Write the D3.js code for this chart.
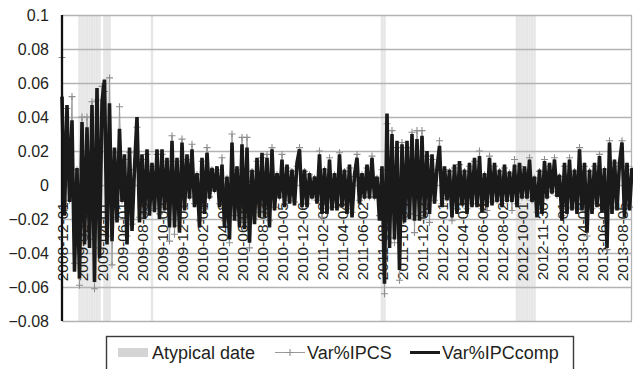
<!DOCTYPE html>
<html>
<head>
<meta charset="utf-8">
<script src="https://cdn.jsdelivr.net/npm/d3@7"></script>
<style>
  body { margin: 0; background: #fff; }
  text { font-family: "Liberation Sans", Arial, Helvetica, sans-serif; fill: #231f20; }
</style>
</head>
<body>
<div id="chart"></div>
<script>
// category axis labels, one every 8 points
const dateLabels = ["2008-12-01","2009-02-02","2009-04-01","2009-06-01","2009-08-03","2009-10-02",
  "2009-12-01","2010-02-01","2010-04-08","2010-06-04","2010-08-03","2010-10-05","2010-12-06",
  "2011-02-03","2011-04-04","2011-06-02","2011-08-03","2011-10-04","2011-12-02","2012-02-01",
  "2012-04-03","2012-06-04","2012-08-02","2012-10-01","2012-11-30","2013-02-01","2013-04-03",
  "2013-06-04","2013-08-05"];
const labelEvery = 8;

const yTicks = [-0.08, -0.06, -0.04, -0.02, 0, 0.02, 0.04, 0.06, 0.08, 0.1];

// Var%IPCcomp (black line)
const varIPCcomp = [
  0.052,-0.018,0.047,-0.010,0.038,-0.051,0.010,-0.055,0.037,-0.035,
  0.034,-0.037,0.047,-0.057,0.057,-0.043,0.049,0.062,-0.035,0.048,
  -0.033,0.022,-0.022,0.033,-0.010,0.018,-0.035,0.022,-0.027,0.010,
  0.040,-0.022,0.018,-0.020,0.021,-0.018,0.013,-0.016,0.021,-0.020,
  0.021,-0.015,0.016,-0.025,0.026,-0.025,0.016,-0.028,0.025,-0.015,
  0.018,-0.008,0.021,-0.013,0.007,-0.025,0.016,-0.017,0.019,-0.008,
  0.010,-0.004,0.011,-0.013,0.012,-0.025,0.005,-0.032,0.025,-0.021,
  0.011,-0.025,0.024,-0.026,0.022,-0.034,0.009,-0.023,0.016,-0.019,
  0.019,-0.019,0.016,-0.025,0.021,-0.015,0.007,-0.008,0.015,-0.013,
  0.012,-0.011,0.009,-0.012,0.013,0.021,-0.013,0.009,-0.013,0.007,
  -0.008,0.005,-0.011,0.018,-0.017,0.010,-0.017,0.015,-0.015,0.007,
  -0.015,0.018,-0.013,0.009,-0.017,0.012,-0.019,0.006,0.016,-0.011,
  0.007,-0.008,0.012,-0.008,0.016,-0.008,0.005,-0.021,0.011,-0.058,
  0.042,-0.037,0.030,-0.032,0.026,-0.050,0.024,-0.022,0.026,-0.020,
  0.030,-0.021,0.027,-0.021,0.029,-0.019,0.020,-0.017,0.018,-0.011,
  0.010,0.023,-0.013,0.011,-0.009,0.009,-0.019,0.012,-0.017,0.014,
  -0.012,0.009,-0.017,0.013,-0.013,0.016,-0.013,0.017,-0.016,0.007,
  -0.013,0.016,-0.012,0.013,-0.010,0.009,-0.013,0.012,-0.010,0.008,
  -0.010,0.012,-0.013,0.013,-0.008,0.011,-0.008,0.015,-0.010,0.005,
  -0.019,0.009,-0.017,0.014,-0.008,0.013,-0.005,0.015,-0.007,0.006,
  -0.021,0.013,-0.017,0.015,-0.015,0.009,-0.017,0.021,-0.015,0.013,
  -0.028,0.009,-0.017,0.013,-0.013,0.017,-0.016,0.010,-0.037,0.025,
  -0.017,0.015,-0.015,0.013,0.025,-0.019,0.013,-0.015,0.010];

// Var%IPCS (grey line with + markers)
const varIPCS = [
  0.075,-0.015,0.045,-0.009,0.052,-0.046,0.009,-0.059,0.040,-0.030,
  0.040,-0.032,0.049,-0.061,0.050,-0.037,0.058,0.055,-0.030,0.063,
  -0.047,0.019,-0.019,0.046,-0.009,0.015,-0.030,0.019,-0.023,0.009,
  0.034,-0.019,0.015,-0.017,0.018,-0.015,0.011,-0.014,0.018,-0.017,
  0.018,-0.013,0.014,-0.033,0.029,-0.029,0.014,-0.024,0.027,-0.013,
  0.015,-0.007,0.024,-0.011,0.006,-0.021,0.014,-0.014,0.022,-0.007,
  0.009,-0.003,0.009,-0.011,0.016,-0.021,0.004,-0.034,0.030,-0.018,
  0.009,-0.021,0.028,-0.022,0.028,-0.037,0.008,-0.020,0.014,-0.016,
  0.016,-0.016,0.018,-0.021,0.022,-0.013,0.006,-0.007,0.018,-0.011,
  0.010,-0.009,0.008,-0.010,0.011,0.022,-0.011,0.008,-0.011,0.006,
  -0.007,0.004,-0.009,0.020,-0.019,0.009,-0.014,0.016,-0.013,0.006,
  -0.013,0.019,-0.011,0.008,-0.014,0.010,-0.016,0.005,0.018,-0.009,
  0.006,-0.007,0.010,-0.007,0.017,-0.007,0.004,-0.018,0.009,-0.064,
  0.036,-0.031,0.032,-0.034,0.022,-0.056,0.025,-0.019,0.022,-0.017,
  0.031,-0.028,0.032,-0.018,0.032,-0.016,0.017,-0.022,0.015,-0.009,
  0.009,0.026,-0.011,0.009,-0.008,0.008,-0.021,0.010,-0.014,0.012,
  -0.010,0.008,-0.014,0.011,-0.011,0.014,-0.011,0.020,-0.014,0.006,
  -0.015,0.017,-0.010,0.011,-0.009,0.008,-0.011,0.010,-0.009,0.007,
  -0.015,0.015,-0.011,0.011,-0.007,0.009,-0.007,0.016,-0.009,0.004,
  -0.016,0.008,-0.014,0.015,-0.007,0.011,-0.004,0.016,-0.006,0.005,
  -0.018,0.011,-0.014,0.016,-0.013,0.008,-0.014,0.022,-0.013,0.011,
  -0.030,0.008,-0.014,0.011,-0.011,0.018,-0.014,0.009,-0.038,0.026,
  -0.014,0.013,-0.013,0.011,0.026,-0.016,0.011,-0.013,0.009];

// indexes of the atypical dates (grey bands)
const atypical = [7,8,9,10,11,12,13,14,15,17,18,19,36,128,129,182,183,184,185,186,187,188,189];

const outerWidth = 633, outerHeight = 369;
const plotLeft = 62, plotRight = 632, plotTop = 15, plotBottom = 321;

const svg = d3.select("#chart").append("svg")
  .attr("width", outerWidth)
  .attr("height", outerHeight);

const x = d3.scaleLinear()
  .domain([0, varIPCcomp.length - 1])
  .range([plotLeft, plotRight]);
const y = d3.scaleLinear()
  .domain([-0.08, 0.1])
  .range([plotBottom, plotTop]);
const step = x(1) - x(0);

// atypical date bands
svg.append("g").selectAll("rect")
  .data(atypical).enter().append("rect")
  .attr("x", d => x(d) - step / 2)
  .attr("y", plotTop)
  .attr("width", step)
  .attr("height", plotBottom - plotTop)
  .attr("fill", "#e6e6e6");

// y axis with grid
const yAxis = d3.axisLeft(y)
  .tickValues(yTicks)
  .tickSize(-(plotRight - plotLeft))
  .tickPadding(13)
  .tickFormat(d3.format("~g"));
const yAxisGroup = svg.append("g")
  .attr("transform", "translate(" + plotLeft + ",0)")
  .call(yAxis);
yAxisGroup.select(".domain").remove();
yAxisGroup.selectAll("line").attr("stroke", "#b3b3b3").attr("stroke-width", 1.3);
yAxisGroup.selectAll("text").style("font-size", "16px").attr("fill", "#231f20");

// right border
svg.append("line")
  .attr("x1", plotRight - 0.5).attr("x2", plotRight - 0.5)
  .attr("y1", plotTop).attr("y2", plotBottom)
  .attr("stroke", "#b3b3b3").attr("stroke-width", 1.3);

// category labels (rotated, sitting under the zero line)
const xAxis = d3.axisBottom(x)
  .tickValues(dateLabels.map((d, i) => i * labelEvery))
  .tickSize(0)
  .tickFormat((d, i) => dateLabels[i]);
const xAxisGroup = svg.append("g")
  .attr("transform", "translate(0," + y(0) + ")")
  .call(xAxis);
xAxisGroup.select(".domain").remove();
xAxisGroup.selectAll("text")
  .style("font-size", "15.5px")
  .attr("fill", "#231f20")
  .attr("text-anchor", "end")
  .attr("y", 0).attr("x", 0)
  .attr("dy", "0.35em")
  .attr("transform", "translate(0,17) rotate(-90)");

// Var%IPCS
const line = d3.line().x((d, i) => x(i)).y(d => y(d));
svg.append("path")
  .datum(varIPCS)
  .attr("fill", "none")
  .attr("stroke", "#9a9a9a")
  .attr("stroke-width", 1)
  .attr("d", line);
svg.append("g").selectAll("path")
  .data(varIPCS).enter().append("path")
  .attr("transform", (d, i) => "translate(" + x(i) + "," + y(d) + ")")
  .attr("d", "M-3.5,0H3.5M0,-3.5V3.5")
  .attr("stroke", "#8e8e8e")
  .attr("stroke-width", 1.1);

// Var%IPCcomp
svg.append("path")
  .datum(varIPCcomp)
  .attr("fill", "none")
  .attr("stroke", "#1b1a1a")
  .attr("stroke-width", 3.6)
  .attr("stroke-linejoin", "bevel")
  .attr("d", line);

// left axis line
svg.append("line")
  .attr("x1", plotLeft).attr("x2", plotLeft)
  .attr("y1", plotTop).attr("y2", plotBottom)
  .attr("stroke", "#111").attr("stroke-width", 2.3);

// legend
const legend = svg.append("g");
legend.append("rect")
  .attr("x", 106.5).attr("y", 336.5)
  .attr("width", 467).attr("height", 50)
  .attr("fill", "#fff")
  .attr("stroke", "#3a3a3a").attr("stroke-width", 1.4);
legend.append("rect")
  .attr("x", 118).attr("y", 348).attr("width", 30).attr("height", 9)
  .attr("fill", "#d4d4d4");
legend.append("text").attr("x", 152).attr("y", 358.5)
  .style("font-size", "18px").text("Atypical date");
legend.append("line")
  .attr("x1", 275).attr("x2", 305).attr("y1", 352.5).attr("y2", 352.5)
  .attr("stroke", "#9a9a9a").attr("stroke-width", 1);
legend.append("path")
  .attr("transform", "translate(290,352.5)")
  .attr("d", "M-3.5,0H3.5M0,-3.5V3.5")
  .attr("stroke", "#8e8e8e").attr("stroke-width", 1.1);
legend.append("text").attr("x", 307).attr("y", 358.5)
  .style("font-size", "18px").text("Var%IPCS");
legend.append("line")
  .attr("x1", 410).attr("x2", 440).attr("y1", 352.5).attr("y2", 352.5)
  .attr("stroke", "#1b1a1a").attr("stroke-width", 3);
legend.append("text").attr("x", 442).attr("y", 358.5)
  .style("font-size", "18px").text("Var%IPCcomp");
</script>
</body>
</html>
